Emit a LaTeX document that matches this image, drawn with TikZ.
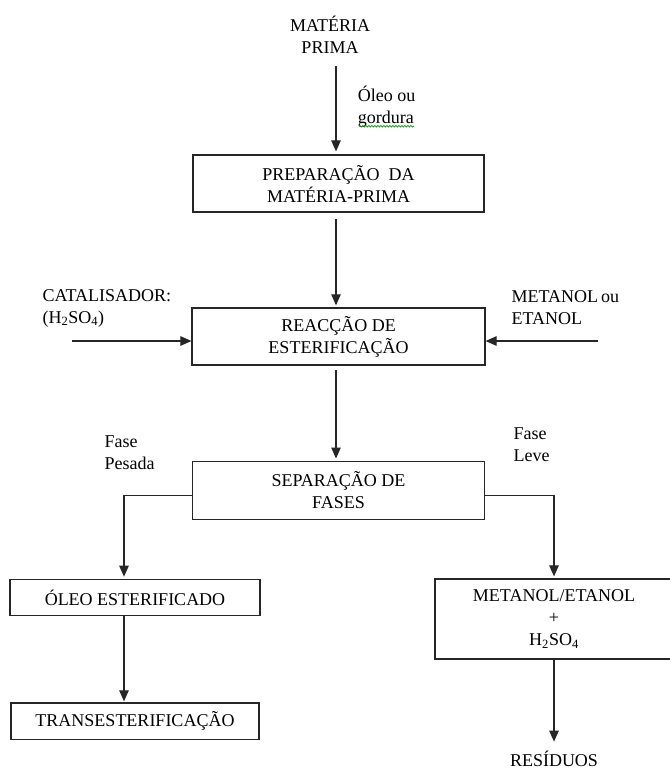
\documentclass[tikz,border=0pt]{standalone}
\usepackage{fontspec}
\setmainfont{Liberation Serif}
\usepackage{tikz}
\usetikzlibrary{arrows.meta, positioning, calc, decorations.pathmorphing}

\tikzset{procbox/.style={rectangle, draw=black!85, line width=1.2pt, fill=white, text=black, align=center, inner sep=2pt}}
\tikzset{flow/.style={draw=black!85, line width=1.1pt, -{Triangle[length=11pt,width=9.5pt]}}}

\begin{document}
\begin{tikzpicture}[font=\fontsize{18pt}{22pt}\selectfont]
    \useasboundingbox (0,0) rectangle (669pt,-770pt);%page frame
    \node (mp) [align=center, text=black] at (330pt,-35pt){MATÉRIA\\PRIMA};%raw material
    \coordinate (col) at (336pt,-66pt);%main arrow column
    \node (prep) [procbox, minimum width=291pt, minimum height=57pt] at (338.5pt,-183.5pt){PREPARAÇÃO\ \ DA\\MATÉRIA-PRIMA};%draws prep
    \node (reac) [procbox, minimum width=293pt, minimum height=57pt, below=94.7pt of prep]{REACÇÃO DE\\ESTERIFICAÇÃO};%draws reaction
    \node (sep) [procbox, minimum width=292pt, minimum height=58pt, below=95pt of reac]{SEPARAÇÃO DE\\FASES};%draws separation
    \node (oleo) [procbox, minimum width=250pt, minimum height=36.5pt] at (135pt,-597.5pt){ÓLEO ESTERIFICADO};%heavy phase box
    \node (trans) [procbox, minimum width=248pt, minimum height=36.5pt, below=86pt of oleo]{TRANSESTERIFICAÇÃO};%next step
    \node (met) [procbox, minimum width=238pt, minimum height=80pt] at (554pt,-619pt){METANOL/ETANOL\\+\\H\textsubscript{2}SO\textsubscript{4}};%light phase box
    \node (res) [text=black] at (554pt,-759pt){RESÍDUOS};%waste
    % side inputs
    \node (cat) [anchor=west, align=left, text=black] at (39pt,-308pt){CATALISADOR:\\(H\textsubscript{2}SO\textsubscript{4})};
    \node (alc) [anchor=west, align=left, text=black] at (508pt,-308pt){METANOL\,ou\\ETANOL};
    \coordinate (catin) at (72pt,-341pt);
    \coordinate (alcin) at (598pt,-341pt);
    \draw[flow] (catin) -- (catin -| reac.west);%catalyst in
    \draw[flow] (alcin) -- (alcin -| reac.east);%alcohol in
    % main line
    \draw[flow, shorten >=3pt] (col) to node(gord)[midway, right, align=left, text=black, xshift=18pt, yshift=3pt]{Óleo ou\\gordura} (col |- prep.north);%feed
    \draw[green!60!black, line width=0.7pt, decorate, decoration={snake, amplitude=0.8pt, segment length=3pt}] ([xshift=5pt,yshift=5.5pt]gord.south west) -- ++(55pt,0);%spell mark
    \draw[flow, shorten <=6pt, shorten >=2pt] (prep.south -| col) -- (reac.north -| col);%prep to reaction
    \draw[flow, shorten <=4pt, shorten >=2pt] (reac.south -| col) -- (sep.north -| col);%reaction to separation
    % branches
    \node (pes) [anchor=west, align=left, text=black] at (101pt,-453pt){Fase\\Pesada};
    \node (lev) [anchor=west, align=left, text=black] at (510pt,-445pt){Fase\\Leve};
    \draw[flow, shorten >=2pt] ([yshift=-5pt]sep.west) -| ([xshift=-11pt]oleo.north);%heavy phase
    \draw[flow, shorten >=2pt] ([yshift=-5pt]sep.east) -| (met.north);%light phase
    \draw[flow, shorten >=1pt] ([xshift=-11pt]oleo.south) -- ([xshift=-11pt]trans.north);%to transesterification
    \draw[flow, shorten >=6pt] (met.south) -- (res.north);%to waste
  \end{tikzpicture}
\end{document}
